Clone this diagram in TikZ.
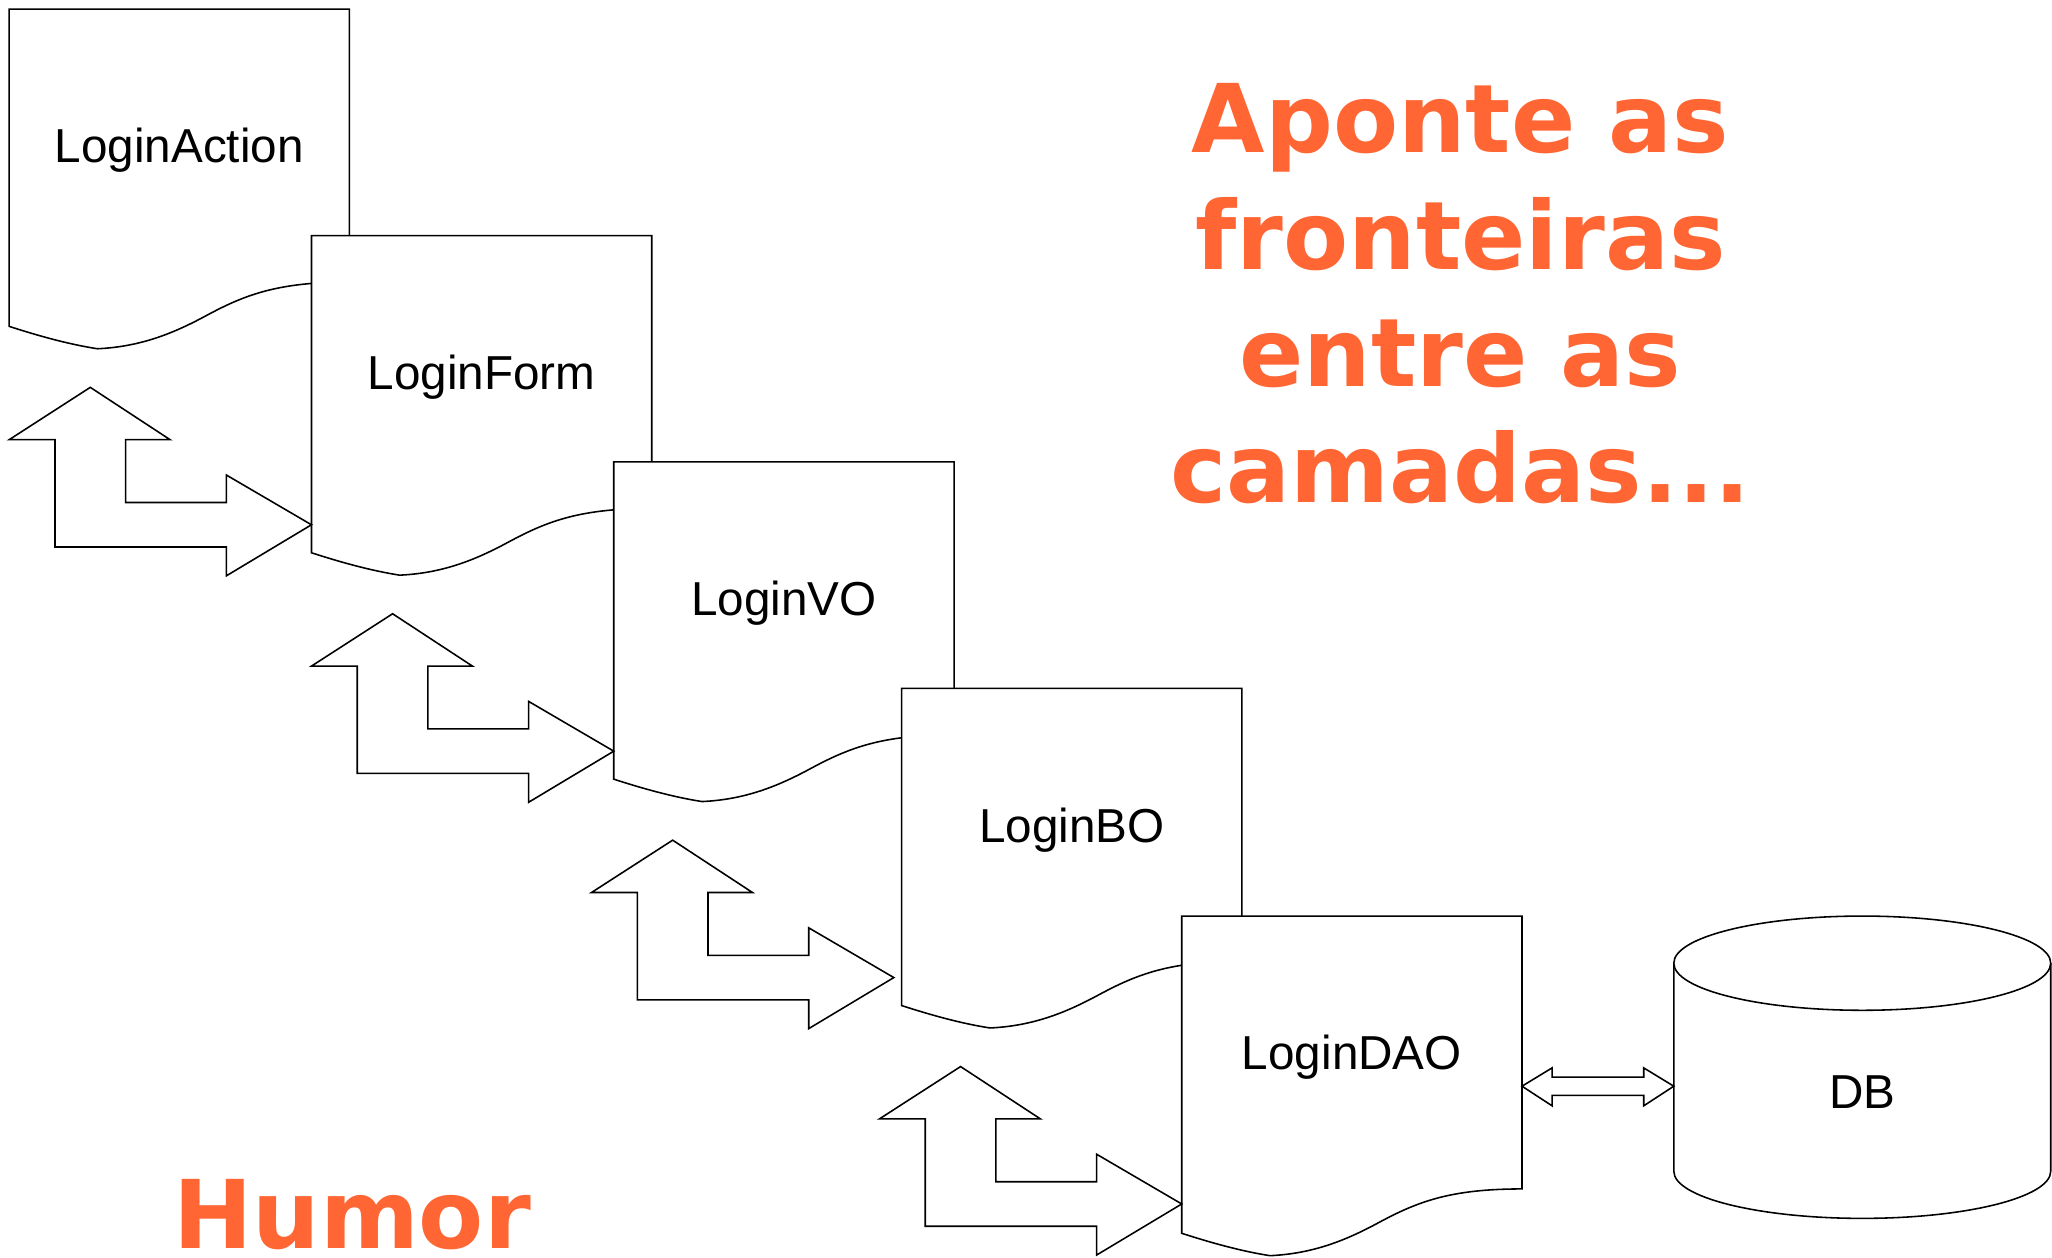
\documentclass[tikz,border=0pt]{standalone}
\usepackage{fontspec}
\newfontfamily\labfont{Liberation Sans}
\newfontfamily\ttlfont{DejaVu Sans}
\definecolor{accent}{HTML}{FF6633}
\begin{document}
\begin{tikzpicture}[x=0.5pt,y=-0.5pt,
  shp/.style={draw=black,line width=0.6pt,fill=white,line join=miter},
  lab/.style={font=\labfont\fontsize{18.2pt}{21pt}\selectfont,anchor=base,inner sep=0pt},
  ttl/.style={font=\ttlfont\bfseries\fontsize{36.25pt}{44.55pt}\selectfont,text=accent,anchor=base,inner sep=0pt},
  docpic/.pic={\draw[shp] (0,0) -- (260,0) -- (260,208.5)
      .. controls (205,208.5) and (180,218.3) .. (150,234.5)
      .. controls (125,248) and (100,258) .. (67.4,259.5)
      .. controls (45,256) and (22,249.5) .. (0,242.4) -- cycle;},
  bentpic/.pic={\draw[shp] (69,296) -- (130,336) -- (96,336) -- (96,384) -- (173,384)
      -- (173,363) -- (238,401) -- (173,440) -- (173,418) -- (42,418) -- (42,336)
      -- (7,336) -- cycle;}]
\useasboundingbox (0,0) rectangle (1568,961);

% documents
\pic at (7,7) {docpic};
\node[lab] (la) at (137,124.5) {LoginAction};
\pic at (238,180) {docpic};
\node[lab] (lf) at (368,297.5) {LoginForm};
\pic at (469,353) {docpic};
\node[lab] (lv) at (599,470.5) {LoginVO};
\pic at (689,526) {docpic};
\node[lab] (lb) at (819,643.5) {LoginBO};
\pic at (903,700) {docpic};
\node[lab] (ld) at (1033,817.5) {LoginDAO};

% bent double arrows
\pic at (0,0) {bentpic};
\pic at (231,173) {bentpic};
\pic at (445,346) {bentpic};
\pic at (665,519) {bentpic};

% database cylinder
\draw[shp] (1279,736) -- (1279,895) arc[start angle=180,end angle=0,x radius=144,y radius=36] -- (1567,736);
\draw[shp] (1423,736) ellipse[x radius=144,y radius=36];
\node[lab] (db) at (1423,847) {DB};

% double arrow DAO <-> DB
\draw[shp] (1163,830) -- (1186,816) -- (1186,823) -- (1256,823) -- (1256,816) -- (1279,830)
  -- (1256,845) -- (1256,837) -- (1186,837) -- (1186,845) -- cycle;

% title
\node[ttl] (t1) at (1116,116.7) {Aponte as};
\node[ttl] (t2) at (1116,205.6) {fronteiras};
\node[ttl] (t3) at (1116,295) {entre as};
\node[ttl] (t4) at (1116,384) {camadas...};
\node[ttl] (hum) at (269,953.7) {Humor};
\end{tikzpicture}
\end{document}
